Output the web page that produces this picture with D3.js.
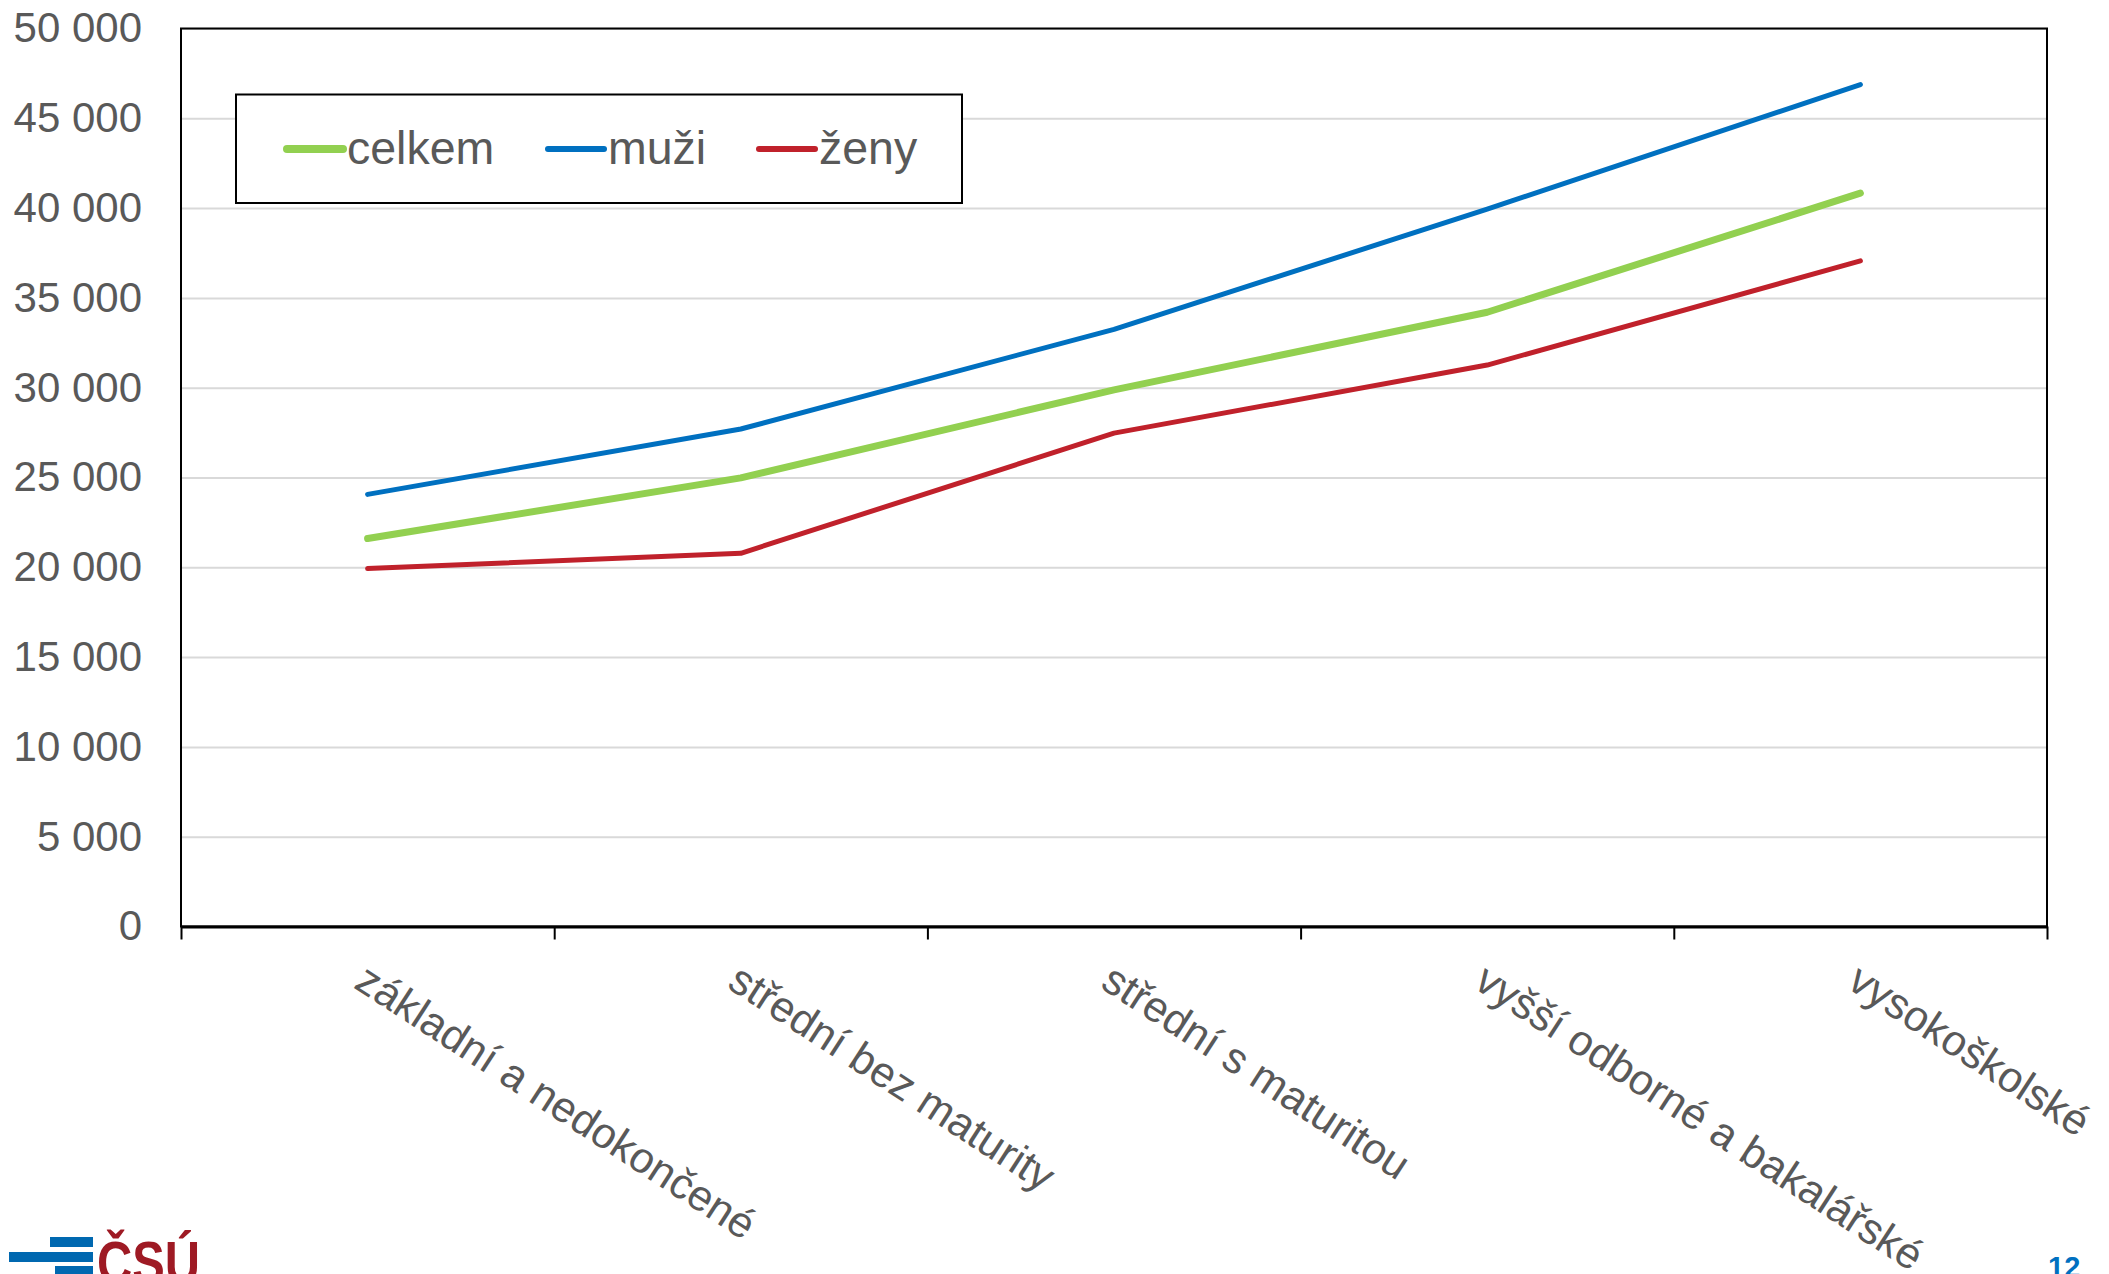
<!DOCTYPE html>
<html>
<head>
<meta charset="utf-8">
<script src="https://cdn.jsdelivr.net/npm/d3@7"></script>
<style>
    body { margin: 0; background: #fff; }
    svg text { font-family: "Liberation Sans", Arial, sans-serif; fill: #595959; }
</style>
</head>
<body>
<div id="chart"></div>
<script>
// vzdělání - kategorie na ose x
let categories = ["základní a nedokončené", "střední bez maturity", "střední s maturitou", "vyšší odborné a bakalářské", "vysokoškolské"];
let celkem = [21600, 24980, 29880, 34200, 40830];
let muzi = [24060, 27700, 33250, 39940, 46880];
let zeny = [19930, 20780, 27470, 31260, 37060];
let yTicks = [0, 5000, 10000, 15000, 20000, 25000, 30000, 35000, 40000, 45000, 50000];
let seriesNames = ["celkem", "muži", "ženy"];

let W = 2109, H = 1274;
let plotLeft = 181, plotRight = 2047, plotTop = 28.5, plotBottom = 926.5;

let svg = d3.select("#chart").append("svg")
    .attr("width", W)
    .attr("height", H);

let x = d3.scaleBand()
    .domain(categories)
    .range([plotLeft, plotRight]);

let xEdges = d3.scaleLinear()
    .domain([0, categories.length])
    .range([plotLeft, plotRight]);

let y = d3.scaleLinear()
    .domain([0, 50000])
    .range([plotBottom, plotTop]);

let cz = d3.formatLocale({decimal: ",", thousands: " ", grouping: [3], currency: ["", " Kč"]});
let fmt = cz.format(",d");

// mřížka
svg.append("g")
    .attr("transform", "translate(" + plotLeft + ",0)")
    .call(d3.axisLeft(y).tickValues(yTicks).tickSize(-(plotRight - plotLeft)).tickFormat(""))
    .call(g => g.select(".domain").remove())
    .call(g => g.selectAll(".tick line").attr("stroke", "#d9d9d9").attr("stroke-width", 2));

// popisky osy y
svg.append("g")
    .attr("transform", "translate(" + plotLeft + ",0)")
    .call(d3.axisLeft(y).tickValues(yTicks).tickSize(0).tickPadding(39).tickFormat(fmt))
    .call(g => g.select(".domain").remove())
    .call(g => g.selectAll("text")
        .attr("font-size", 42)
        .attr("fill", "#595959")
        .attr("font-family", "Liberation Sans, Arial, sans-serif"));

// rámeček grafu
svg.append("rect")
    .attr("x", plotLeft)
    .attr("y", plotTop)
    .attr("width", plotRight - plotLeft)
    .attr("height", plotBottom - plotTop)
    .attr("fill", "none")
    .attr("stroke", "#000")
    .attr("stroke-width", 2);

// osa x se značkami na hranicích kategorií
svg.append("g")
    .attr("transform", "translate(0," + plotBottom + ")")
    .call(d3.axisBottom(xEdges).ticks(categories.length).tickSizeInner(13).tickSizeOuter(0).tickFormat(""))
    .call(g => g.select(".domain").attr("stroke", "#000").attr("stroke-width", 3))
    .call(g => g.selectAll(".tick line").attr("stroke", "#000").attr("stroke-width", 2));

svg.append("g")
    .selectAll("text")
    .data(categories)
    .enter().append("text")
    .attr("transform", d => "translate(" + (x(d) + x.bandwidth() / 2 - 15) + ",987) rotate(33)")
    .attr("font-size", 43)
    .attr("text-anchor", "start")
    .text(d => d);

// čáry
let series = [
    {name: "celkem", values: celkem, color: "#92d050", width: 7},
    {name: "muži", values: muzi, color: "#0070c0", width: 5},
    {name: "ženy", values: zeny, color: "#c0212b", width: 5}
];

let line = d3.line()
    .x((d, i) => x(categories[i]) + x.bandwidth() / 2)
    .y(d => y(d));

svg.selectAll(".series")
    .data(series)
    .enter().append("path")
    .attr("class", "series")
    .attr("d", d => line(d.values))
    .style("fill", "none")
    .style("stroke", d => d.color)
    .style("stroke-width", d => d.width)
    .style("stroke-linecap", "round")
    .style("stroke-linejoin", "round");

// legenda
svg.append("rect")
    .attr("x", 236)
    .attr("y", 94.5)
    .attr("width", 726)
    .attr("height", 108.5)
    .attr("fill", "#fff")
    .attr("stroke", "#000")
    .attr("stroke-width", 2);

let legendX = [287, 548, 759];
let legend = svg.selectAll(".legend")
    .data(series)
    .enter().append("g")
    .attr("class", "legend")
    .attr("transform", (d, i) => "translate(" + legendX[i] + ",149)");

legend.append("line")
    .attr("x1", 0)
    .attr("x2", 56)
    .attr("stroke", d => d.color)
    .attr("stroke-width", d => d.width + 1)
    .attr("stroke-linecap", "round");

legend.append("text")
    .attr("x", 60)
    .attr("y", 15)
    .attr("font-size", 46.5)
    .text((d, i) => seriesNames[i]);

// logo ČSÚ a číslo strany
let logo = svg.append("g");
logo.append("rect").attr("x", 50).attr("y", 1237).attr("width", 43).attr("height", 10).attr("fill", "#0068b0");
logo.append("rect").attr("x", 9).attr("y", 1252).attr("width", 84).attr("height", 10).attr("fill", "#0068b0");
logo.append("rect").attr("x", 55).attr("y", 1266).attr("width", 38).attr("height", 10).attr("fill", "#0068b0");
logo.append("text")
    .attr("x", 97)
    .attr("y", 1283)
    .attr("font-size", 60)
    .attr("font-weight", "bold")
    .attr("textLength", 103)
    .attr("lengthAdjust", "spacingAndGlyphs")
    .style("fill", "#9e1a24")
    .text("ČSÚ");

svg.append("text")
    .attr("x", 2048)
    .attr("y", 1277)
    .attr("font-size", 29)
    .attr("font-weight", "bold")
    .style("fill", "#0070c0")
    .text("12");
</script>
</body>
</html>
